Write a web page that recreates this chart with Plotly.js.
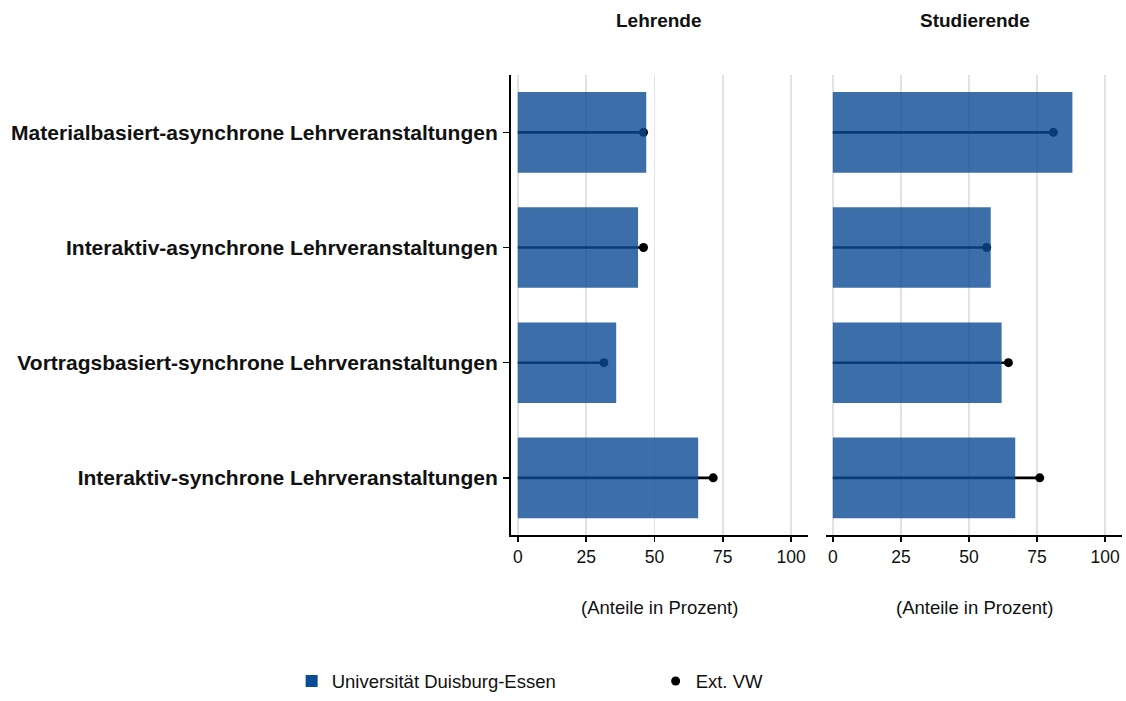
<!DOCTYPE html>
<html>
<head>
<meta charset="utf-8">
<script src="https://cdn.plot.ly/plotly-3.0.1.min.js"></script>
<style>html,body{margin:0;padding:0;background:#fff;}#chart{width:1126px;height:701px;}</style>
</head>
<body>
<div id="chart"></div>
<script>
// ---- data ----
const categories = [
  "Materialbasiert-asynchrone Lehrveranstaltungen",
  "Interaktiv-asynchrone Lehrveranstaltungen",
  "Vortragsbasiert-synchrone Lehrveranstaltungen",
  "Interaktiv-synchrone Lehrveranstaltungen"
];
const panels = ["Lehrende", "Studierende"];
const udeLehrende = [47, 44, 36, 66];
const extLehrende = [46, 46, 31.5, 71.5];
const udeStudierende = [88, 58, 62, 67];
const extStudierende = [81, 56.5, 64.5, 76];
const xTicks = [0, 25, 50, 75, 100];
const seriesNames = ["Universität Duisburg-Essen", "Ext. VW"];
const xTitle = "(Anteile in Prozent)";

// ---- styling ----
const FONT = "Liberation Sans, Arial, sans-serif";
const barColor = "#0b4a94";
const xRange = [-2.5, 106.2];
const yRange = [3.5, -0.5];

function segs(vals) {
  const xs = [], ys = [];
  vals.forEach((v, i) => { xs.push(0, v, null); ys.push(categories[i], categories[i], null); });
  return {xs, ys};
}

const traces = [];
const panelData = [[udeLehrende, extLehrende], [udeStudierende, extStudierende]];
panelData.forEach((pd, p) => {
  const xa = p === 0 ? "x" : "x2";
  const ya = p === 0 ? "y" : "y2";
  const xo = p === 0 ? "x3" : "x4";
  const yo = p === 0 ? "y3" : "y4";
  const s = segs(pd[1]);
  traces.push({
    type: "scatter", mode: "lines", x: s.xs, y: s.ys, xaxis: xa, yaxis: ya,
    line: {color: "#000", width: 2.6}, showlegend: false, hoverinfo: "skip"
  });
  traces.push({
    type: "scatter", mode: "markers", x: pd[1], y: categories, xaxis: xa, yaxis: ya,
    marker: {color: "#000", size: 9}, name: seriesNames[1], showlegend: p === 0, legendrank: 2
  });
  traces.push({
    type: "bar", orientation: "h", x: pd[0], y: categories, xaxis: xo, yaxis: yo,
    width: 0.7, marker: {color: barColor, opacity: 0.8, line: {width: 0}},
    name: seriesNames[0], showlegend: p === 0, legendrank: 1
  });
});

const xBase = {
  range: xRange, tickvals: xTicks, ticks: "outside", ticklen: 5, tickwidth: 1.5, tickcolor: "#000",
  showline: true, linecolor: "#000", linewidth: 2, showgrid: true, gridcolor: "#e2e2e2", gridwidth: 1.6,
  zeroline: false, tickfont: {family: FONT, size: 17.5, color: "#111"}, fixedrange: true, automargin: false
};
const yDomain = [0.234, 0.893];

const layout = {
  width: 1126, height: 701,
  margin: {l: 0, r: 0, t: 0, b: 0},
  paper_bgcolor: "#fff", plot_bgcolor: "rgba(0,0,0,0)",
  font: {family: FONT, color: "#000"},
  bargap: 0.3,
  xaxis: Object.assign({}, xBase, {domain: [0.4538, 0.7176], anchor: "y"}),
  xaxis2: Object.assign({}, xBase, {domain: [0.7336, 0.9964], anchor: "y2"}),
  yaxis: {
    domain: yDomain, anchor: "x", type: "category", categoryarray: categories, range: yRange,
    showline: true, linecolor: "#000", linewidth: 2, ticks: "outside", ticklen: 6, tickwidth: 1.5,
    tickcolor: "#000", showgrid: false, zeroline: false, ticklabelstandoff: 1, automargin: false,
    tickfont: {family: FONT, size: 21, color: "#111", weight: "bold"}, fixedrange: true
  },
  yaxis2: {
    domain: yDomain, anchor: "x2", type: "category", categoryarray: categories, range: yRange, automargin: false,
    showline: false, ticks: "", showticklabels: false, showgrid: false, zeroline: false, fixedrange: true
  },
  xaxis3: {overlaying: "x", anchor: "y3", range: xRange, visible: false, fixedrange: true},
  yaxis3: {overlaying: "y", anchor: "x3", type: "category", categoryarray: categories, range: yRange, visible: false, fixedrange: true},
  xaxis4: {overlaying: "x2", anchor: "y4", range: xRange, visible: false, fixedrange: true},
  yaxis4: {overlaying: "y2", anchor: "x4", type: "category", categoryarray: categories, range: yRange, visible: false, fixedrange: true},
  legend: {
    orientation: "h", x: 0.259, xanchor: "left", y: 0.025, yanchor: "middle",
    font: {family: FONT, size: 18.5, color: "#111"}, entrywidth: 319, entrywidthmode: "pixels",
    traceorder: "normal", itemclick: false, itemdoubleclick: false
  },
  annotations: [
    {text: "<b>" + panels[0] + "</b>", xref: "paper", yref: "paper", x: 0.5857, y: 0.971, showarrow: false,
     font: {family: FONT, size: 19, color: "#111"}, xanchor: "center", yanchor: "middle"},
    {text: "<b>" + panels[1] + "</b>", xref: "paper", yref: "paper", x: 0.8655, y: 0.971, showarrow: false,
     font: {family: FONT, size: 19, color: "#111"}, xanchor: "center", yanchor: "middle"},
    {text: xTitle, xref: "paper", yref: "paper", x: 0.5857, y: 0.131, showarrow: false,
     font: {family: FONT, size: 18.5, color: "#111"}, xanchor: "center", yanchor: "middle"},
    {text: xTitle, xref: "paper", yref: "paper", x: 0.8655, y: 0.131, showarrow: false,
     font: {family: FONT, size: 18.5, color: "#111"}, xanchor: "center", yanchor: "middle"}
  ]
};

Plotly.newPlot("chart", traces, layout, {displayModeBar: false, staticPlot: true});
</script>
</body>
</html>
